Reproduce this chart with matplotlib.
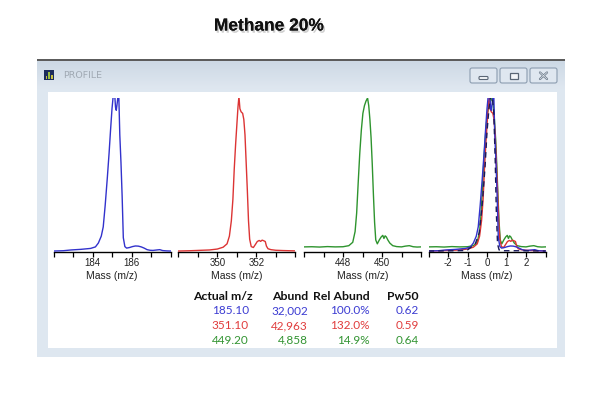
import numpy as np
import matplotlib
matplotlib.use("Agg")
import matplotlib.pyplot as plt
import matplotlib.patches as mpatches
import matplotlib.patheffects as pe

# ---- data (intensity in % of panel max) ----
blue_mass = [182.0, 182.5, 182.9, 183.4, 183.9, 184.15, 184.3, 184.45, 184.55, 184.65,
             184.76, 184.85, 184.92, 185.0, 185.06, 185.12, 185.18, 185.22, 185.28, 185.34,
             185.4, 185.46, 185.52, 185.58, 185.66, 185.75, 185.9, 186.05, 186.2, 186.35,
             186.5, 186.65, 186.8, 186.95, 187.1, 187.3, 187.45, 187.6, 187.8, 188.0]
blue_int = [0.3, 0.5, 1.0, 1.4, 2.0, 3.0, 5.5, 10, 16, 30,
            48, 64, 78, 93, 101, 106, 94, 92, 98, 106,
            76, 58, 36, 9, 3.2, 2.2, 2.6, 3.2, 3.6, 3.5,
            3.0, 2.2, 1.2, 0.8, 0.7, 1.0, 1.2, 0.6, 0.4, 0.3]

red_mass = [348.0, 348.6, 349.2, 349.6, 350.0, 350.3, 350.5, 350.62, 350.72, 350.8,
            350.87, 350.94, 351.0, 351.06, 351.11, 351.16, 351.22, 351.3, 351.36, 351.42,
            351.48, 351.54, 351.6, 351.66, 351.74, 351.85, 351.95, 352.05, 352.15, 352.22,
            352.3, 352.38, 352.46, 352.52, 352.6, 352.75, 353.0, 353.4, 353.7, 354.0]
red_int = [0.3, 0.5, 0.8, 1.0, 1.6, 2.8, 5.0, 10, 20, 34,
           54, 70, 82, 94, 101, 93, 91, 90, 86, 76,
           58, 40, 20, 8, 3.2, 2.6, 4.5, 6.5, 7.2, 6.6,
           7.4, 7.0, 6.5, 3.5, 1.8, 1.2, 0.8, 0.6, 0.5, 0.4]

green_mass = [446.0, 446.4, 446.8, 447.2, 447.6, 448.0, 448.3, 448.5, 448.62, 448.7,
              448.78, 448.86, 448.94, 449.02, 449.1, 449.18, 449.26, 449.32, 449.38, 449.44,
              449.5, 449.56, 449.62, 449.68, 449.76, 449.86, 449.96, 450.04, 450.1, 450.16,
              450.22, 450.3, 450.4, 450.55, 450.75, 451.0, 451.2, 451.4, 451.6, 451.8, 452.0]
green_int = [3.0, 3.1, 2.9, 3.2, 3.0, 3.1, 3.8, 6.0, 13, 25,
             45, 64, 79, 90, 95, 98, 100, 95, 86, 74,
             57, 37, 19, 7.5, 5.0, 7.5, 9.5, 10.5, 8.5, 10.2,
             9.5, 7.5, 5.5, 3.8, 3.2, 3.0, 3.5, 3.8, 3.1, 2.9, 3.0]

# nominal masses used to overlay the three profiles in the last panel
nominal_mass = [185, 351, 449]

# dark dashed reference trace in the overlay panel
ref_offset = [-3.0, -2.0, -1.2, -1.0, -0.6, -0.4, -0.25, -0.1, 0.0, 0.1,
              0.2, 0.28, 0.35, 0.42, 0.48, 0.54, 0.62, 0.8, 1.5, 3.0]
ref_int = [0.3, 0.4, 0.6, 1.0, 5.0, 12, 30, 55, 78, 93,
           102, 100, 90, 60, 25, 5, 1.0, 0.5, 0.5, 0.3]

# table
actual_mz = [185.10, 351.10, 449.20]
abund = ["32,002", "42,963", "4,858"]
rel_abund = ["100.0%", "132.0%", "14.9%"]
pw50 = ["0.62", "0.59", "0.64"]

series_colors = ["#3232cc", "#dc3434", "#2e942e"]
table_colors = ["#3c3cd2", "#e03c3c", "#329432"]

W, H = 608, 409
fig = plt.figure(figsize=(W / 100, H / 100), dpi=100)

# background axes in pixel coordinates for the window chrome
bg = fig.add_axes([0, 0, 1, 1])
bg.set_xlim(0, W)
bg.set_ylim(H, 0)
bg.axis("off")

bg.text(269, 26, "Methane 20%", ha="center", va="center", fontsize=12.5,
        fontweight="bold", family="Liberation Sans", color="#111111",
        path_effects=[pe.withSimplePatchShadow(offset=(1.2, -1.6), shadow_rgbFace="#888888", alpha=0.4),
                      pe.Normal()])

# window frame
bg.add_patch(mpatches.Rectangle((37, 60), 528, 297, facecolor="#dee7f0", edgecolor="none"))
grad = np.linspace(0, 1, 30).reshape(-1, 1)
bg.imshow(grad, extent=(37, 565, 89, 61), cmap=matplotlib.colors.LinearSegmentedColormap.from_list(
    "tb", ["#cdd9e5", "#dfe7f0"]), aspect="auto", zorder=1)
bg.add_patch(mpatches.Rectangle((37, 59), 528, 2, facecolor="#5c5c5c", edgecolor="none", zorder=2))
bg.add_patch(mpatches.Rectangle((47.5, 92), 509, 256, facecolor="white", edgecolor="none", zorder=2))

# icon + title
bg.add_patch(mpatches.Rectangle((44, 70), 10, 10, facecolor="#1c2c5c", edgecolor="none", zorder=3))
for bx, bh, c in [(45.5, 3, "#c8c040"), (48.3, 7, "#9ac040"), (51.2, 4, "#c8c040")]:
    bg.add_patch(mpatches.Rectangle((bx, 79 - bh), 1.3, bh, facecolor=c, edgecolor="none", zorder=4))
bg.text(63, 75.5, "PROFILE", ha="left", va="center", fontsize=6.8, color="#a0a9b3",
        family="DejaVu Sans", zorder=3)

# window buttons
for bx in [470, 500, 530]:
    bg.add_patch(mpatches.FancyBboxPatch((bx, 68), 27, 15, boxstyle="round,pad=0,rounding_size=2",
                                         facecolor="#dfe7f0", edgecolor="#8c9db0", lw=0.8, zorder=3))
bg.add_patch(mpatches.FancyBboxPatch((479, 76.5), 9, 3, boxstyle="round,pad=0,rounding_size=1",
                                     facecolor="#f4f6f9", edgecolor="#5a6675", lw=0.8, zorder=4))
bg.add_patch(mpatches.Rectangle((509.5, 72.5), 8, 6, facecolor="#f4f6f9", edgecolor="#5a6675", lw=0.9, zorder=4))
bg.plot([540, 547], [72.5, 79], color="#6a7888", lw=1.6, zorder=4, solid_capstyle="round")
bg.plot([540, 547], [79, 72.5], color="#6a7888", lw=1.6, zorder=4, solid_capstyle="round")
bg.plot([540, 547], [72.5, 79], color="#e6ecf2", lw=0.5, zorder=5)
bg.plot([540, 547], [79, 72.5], color="#e6ecf2", lw=0.5, zorder=5)

# ---- spectrum panels ----
panels = [
    (53.5, (182, 188), range(182, 189), ["", "", "184", "", "186", "", ""]),
    (178.3, (348, 354), range(348, 355), ["", "", "350", "", "352", "", ""]),
    (304.0, (446, 452), range(446, 453), ["", "", "448", "", "450", "", ""]),
    (428.5, (-3, 3), range(-3, 4), ["", "-2", "-1", "0", "1", "2", ""]),
]
axes = []
for x0, xlim, ticks, labels in panels:
    ax = fig.add_axes([x0 / W, 1 - 251.5 / H, 117 / W, 153.5 / H])
    ax.set_facecolor("none")
    ax.set_xlim(*xlim)
    ax.set_ylim(0, 100)
    for s in ["left", "right", "top"]:
        ax.spines[s].set_visible(False)
    ax.spines["bottom"].set_linewidth(1.0)
    ax.spines["bottom"].set_zorder(1)
    ax.set_yticks([])
    ax.set_xticks(list(ticks))
    ax.set_xticklabels(labels, family="Liberation Sans", fontsize=7, color="#222222")
    ax.tick_params(axis="x", direction="out", length=3.5, width=0.9, pad=1)
    ax.set_xlabel("Mass (m/z)", family="Liberation Sans", fontsize=7.5, color="#222222", labelpad=2)
    axes.append(ax)

axes[0].plot(blue_mass, blue_int, color=series_colors[0], lw=1.0, zorder=3)
axes[1].plot(red_mass, red_int, color=series_colors[1], lw=1.0, zorder=3)
axes[2].plot(green_mass, green_int, color=series_colors[2], lw=1.0, zorder=3)

# overlay: each profile relative to its nominal mass
for mass, inten, nm, c in [(green_mass, green_int, nominal_mass[2], series_colors[2]),
                           (red_mass, red_int, nominal_mass[1], series_colors[1]),
                           (blue_mass, blue_int, nominal_mass[0], series_colors[0])]:
    axes[3].plot(np.array(mass) - nm, inten, color=c, lw=1.0, zorder=3)
axes[3].plot(ref_offset, ref_int, color="#1a1a5a", lw=1.0, ls=(0, (4, 3)), zorder=4)

# ---- table ----
hfont = "Lato"
tfont = "Lato"
headers = [("Actual m/z", 193, "left"), ("Abund", 308, "right"),
           ("Rel Abund", 369.5, "right"), ("Pw50", 419, "right")]
for txt, hx, ha in headers:
    bg.text(hx, 296.5, txt, ha=ha, va="center", fontsize=8.8, fontweight="bold",
            family=hfont, color="#111111", zorder=5)
for i in range(3):
    y = 311 + i * 14.6
    c = table_colors[i]
    bg.text(249, y, f"{actual_mz[i]:.2f}", ha="right", va="center", fontsize=8.5, family=tfont, color=c, zorder=5)
    bg.text(308, y, abund[i], ha="right", va="center", fontsize=8.5, family=tfont, color=c, zorder=5)
    bg.text(369.5, y, rel_abund[i], ha="right", va="center", fontsize=8.5, family=tfont, color=c, zorder=5)
    bg.text(419, y, pw50[i], ha="right", va="center", fontsize=8.5, family=tfont, color=c, zorder=5)

fig.savefig("out.png", dpi=100)
